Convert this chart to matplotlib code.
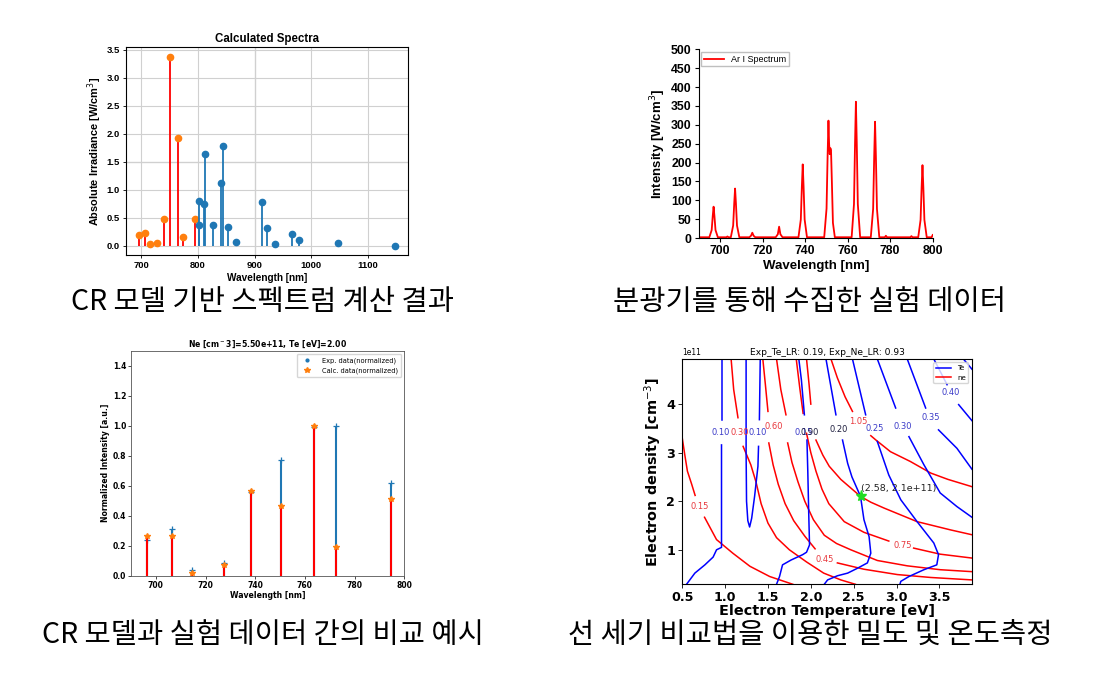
import numpy as np
import matplotlib
matplotlib.use('Agg')
from matplotlib import pyplot as plt
from matplotlib.lines import Line2D

# ---- panel 1 : calculated spectra (stems) ----
calc_ar_wl = [697, 707.5, 715.5, 728, 739.5, 751, 764.5, 773, 795]
calc_ar_val = [0.18, 0.22, 0.02, 0.05, 0.48, 3.38, 1.93, 0.16, 0.47]
calc_ir_wl = [801.5, 802.5, 811.5, 812.3, 827, 841.5, 843.5, 852.5, 867, 913, 922.5, 935.5, 965.5, 979, 1046.5, 1147]
calc_ir_val = [0.36, 0.80, 0.75, 1.63, 0.36, 1.12, 1.78, 0.33, 0.06, 0.78, 0.32, 0.02, 0.21, 0.10, 0.04, 0.0]

spec_wl = [690, 695.0, 696.1, 696.6, 697.0, 697.4, 697.9, 699.0,
           703.0, 703.5, 704.0,
           705.1, 706.2, 706.7, 707.1, 707.5, 708.0, 709.1,
           713.8, 714.6, 715.2, 715.8, 716.6,
           726.2, 727.2, 727.8, 728.4, 729.4,
           736.9, 738.0, 738.5, 738.9, 739.3, 739.8, 740.9,
           749.0, 750.1, 750.6, 751.0, 751.3, 751.6, 751.9, 752.2, 752.6, 753.1, 754.0,
           761.9, 763.0, 763.5, 763.9, 764.3, 764.8, 765.9,
           770.9, 772.0, 772.5, 772.9, 773.3, 773.8, 774.9,
           777.5, 778.0, 778.5,
           789.5, 790.0, 790.5,
           793.2, 794.3, 794.8, 795.2, 795.6, 796.1, 797.2,
           799.5, 800]
spec_int = [2, 2, 21, 58, 83, 58, 21, 2,
            2, 4, 2,
            2, 33, 92, 131, 92, 33, 2,
            2, 6, 14, 6, 2,
            2, 10, 30, 10, 2,
            2, 49, 137, 195, 137, 49, 2,
            2, 78, 218, 311, 250, 222, 238, 232, 150, 40, 2,
            2, 90, 253, 361, 253, 90, 2,
            2, 77, 216, 308, 216, 77, 2,
            2, 6, 2,
            2, 5, 2,
            2, 48, 135, 193, 135, 48, 2,
            2, 8]

# ---- panel 3 : exp vs calc ----
cmp_wl = [696.5, 706.7, 714.7, 727.3, 738.4, 750.4, 763.5, 772.4, 794.8]
cmp_exp = [0.235, 0.31, 0.04, 0.085, 0.56, 0.77, 0.99, 1.0, 0.62]
cmp_calc = [0.265, 0.265, 0.02, 0.07, 0.565, 0.465, 1.0, 0.19, 0.51]

# ---- panel 4 : line ratio contours, (Te [eV], ne [1e11 cm-3]) ----
ne_015 = [[(0.50, 3.30), (0.53, 2.95), (0.56, 2.62), (0.61, 2.35), (0.65, 2.12)],
          [(0.76, 1.67), (0.90, 1.21), (1.09, 0.93), (1.29, 0.66), (1.52, 0.45), (1.79, 0.29)]]
ne_030 = [[(1.07, 4.93), (1.10, 4.30), (1.15, 3.72)],
          [(1.21, 3.13), (1.30, 2.75), (1.36, 2.40), (1.42, 1.95), (1.50, 1.55), (1.60, 1.25),
           (1.75, 1.00), (1.95, 0.75), (2.15, 0.52), (2.35, 0.38), (2.52, 0.29)]]
ne_045 = [[(1.44, 4.93), (1.47, 4.40), (1.50, 3.85)],
          [(1.51, 3.20), (1.56, 2.75), (1.62, 2.35), (1.70, 1.95), (1.80, 1.60), (1.93, 1.28), (2.05, 1.02)],
          [(2.31, 0.73), (2.62, 0.60), (3.01, 0.49), (3.40, 0.43), (3.88, 0.38)]]
ne_060 = [[(1.60, 4.93), (1.65, 4.30), (1.71, 3.78)],
          [(1.73, 3.20), (1.78, 2.80), (1.85, 2.40), (1.93, 2.00), (2.03, 1.62), (2.157, 1.30), (2.30, 1.13),
           (2.467, 1.00), (2.776, 0.78), (3.125, 0.67), (3.51, 0.59), (3.88, 0.55)]]
ne_075 = [[(1.83, 4.93), (1.87, 4.35), (1.91, 3.81)],
          [(1.95, 3.40), (2.00, 3.00), (2.06, 2.62), (2.13, 2.25), (2.21, 1.95), (2.39, 1.58), (2.62, 1.36), (2.91, 1.18)],
          [(3.20, 1.035), (3.51, 0.91), (3.88, 0.83)]]
ne_090 = [[(1.95, 4.93), (1.98, 4.40), (2.00, 4.00)],
          [(2.06, 3.26), (2.14, 2.95), (2.215, 2.72), (2.35, 2.45), (2.58, 2.10), (2.70, 1.98), (2.854, 1.86),
           (3.24, 1.58), (3.63, 1.41), (3.88, 1.31)]]
ne_105 = [[(2.235, 4.93), (2.31, 4.54), (2.40, 4.15), (2.486, 3.85)],
          [(2.70, 3.35), (2.76, 3.26), (2.93, 3.02), (3.16, 2.82), (3.40, 2.58), (3.60, 2.45), (3.88, 2.30)]]
ne_levels = [ne_015, ne_030, ne_045, ne_060, ne_075, ne_090, ne_105]
ne_labels = [('0.15', 0.70, 1.90), ('0.30', 1.165, 3.42), ('0.45', 2.165, 0.80), ('0.60', 1.57, 3.53),
             ('0.75', 3.067, 1.09), ('1.05', 2.55, 3.65)]

te_010a = [[(0.55, 0.29), (0.647, 0.52), (0.764, 0.69), (0.86, 0.85), (0.90, 1.00), (0.958, 1.05), (0.958, 3.16)],
           [(0.958, 3.68), (0.958, 4.93)]]
te_010b = [[(1.245, 4.93), (1.245, 3.00), (1.25, 2.00), (1.265, 1.60), (1.286, 1.47), (1.31, 1.65),
            (1.344, 2.10), (1.383, 2.72), (1.39, 3.13)],
           [(1.40, 3.68), (1.41, 4.93)]]
te_015 = [[(1.86, 4.93), (1.89, 4.50), (1.925, 3.78)],
          [(1.955, 3.26), (1.965, 2.60), (1.975, 1.80), (1.985, 1.10), (1.95, 0.95), (1.905, 0.90),
           (1.77, 0.79), (1.67, 0.69), (1.635, 0.45), (1.60, 0.29)]]
te_020 = [[(2.177, 4.93), (2.293, 3.78)],
          [(2.37, 3.26), (2.43, 2.78), (2.48, 2.50), (2.58, 2.10), (2.62, 1.62), (2.68, 1.27), (2.70, 0.93),
           (2.66, 0.73), (2.544, 0.62), (2.43, 0.52), (2.31, 0.465), (2.196, 0.38), (2.157, 0.29)]]
te_025 = [[(2.486, 4.93), (2.64, 3.78)],
          [(2.776, 3.23), (2.91, 2.54), (3.05, 2.03), (3.24, 1.58), (3.435, 1.14), (3.49, 0.90), (3.47, 0.69),
           (3.32, 0.59), (3.145, 0.45), (3.05, 0.35), (3.04, 0.29)]]
te_030 = [[(2.776, 4.93), (2.99, 3.92)],
          [(3.145, 3.33), (3.32, 2.75), (3.51, 2.17), (3.705, 1.89), (3.88, 1.67)]]
te_035 = [[(3.125, 4.93), (3.34, 3.92)], [(3.49, 3.47), (3.705, 3.09), (3.88, 2.66)]]
te_040 = [[(3.435, 4.93), (3.59, 4.40)], [(3.725, 3.99), (3.88, 3.66)]]
te_045 = [[(3.78, 4.93), (3.88, 4.72)]]
te_levels = [te_010a, te_010b, te_015, te_020, te_025, te_030, te_035, te_040, te_045]
te_labels = [('0.10', 0.945, 3.42), ('0.10', 1.375, 3.42), ('0.15', 1.92, 3.42), ('0.25', 2.75, 3.50),
             ('0.30', 3.07, 3.54), ('0.35', 3.40, 3.72), ('0.40', 3.63, 4.23)]
dark_labels = [('0.90', 1.99, 3.42), ('0.20', 2.33, 3.47)]

best_te = 2.58
best_ne = 2.1

captions = ['CR 모델 기반 스펙트럼 계산 결과', '분광기를 통해 수집한 실험 데이터',
            'CR 모델과 실험 데이터 간의 비교 예시', '선 세기 비교법을 이용한 밀도 및 온도측정']

fig = plt.figure(figsize=(10.96, 6.75), dpi=100)

# panel 1
ax1 = fig.add_axes([0.115, 0.6222, 0.2573, 0.308])
arial = 'Liberation Sans'
ax1.grid(True, color='#d0d0d0', linewidth=0.8)
ax1.set_axisbelow(True)
ax1.axvline(900, color='#a0a0a0', linewidth=0.8, zorder=0)
ax1.axhline(1.5, color='#a0a0a0', linewidth=0.8, zorder=0)
ax1.vlines(calc_ar_wl, 0, calc_ar_val, color='red', linewidth=1.3)
ax1.plot(calc_ar_wl, calc_ar_val, 'o', color='#ff7f0e', markersize=4.5)
ax1.vlines(calc_ir_wl, 0, calc_ir_val, color='#1f77b4', linewidth=1.3)
ax1.plot(calc_ir_wl, calc_ir_val, 'o', color='#1f77b4', markersize=4.5)
ax1.set_xlim(673.4, 1170.6)
ax1.set_ylim(-0.169, 3.549)
ax1.set_xticks([700, 800, 900, 1000, 1100])
ax1.set_yticks(np.arange(0, 3.6, 0.5))
ax1.set_title('Calculated Spectra', fontsize=8.3, fontweight='bold', family=arial, pad=4)
ax1.set_xlabel('Wavelength [nm]', fontsize=7.2, fontweight='bold', family=arial, labelpad=2)
ax1.set_ylabel('Absolute Irradiance [W/cm$^3$]', fontsize=7.9, fontweight='bold', family=arial, labelpad=2)
for lab in ax1.get_xticklabels() + ax1.get_yticklabels():
    lab.set_fontsize(6.8)
    lab.set_fontweight('bold')
    lab.set_family(arial)
ax1.tick_params(length=2.5, width=0.6, pad=2)

# panel 2
ax2 = fig.add_axes([0.6375, 0.6474, 0.2135, 0.2796])
ax2.plot(spec_wl, spec_int, color='red', linewidth=1.3, label='Ar I Spectrum')
ax2.set_xlim(690, 800)
ax2.set_ylim(0, 500)
ax2.set_xticks(np.arange(700, 801, 20))
ax2.set_yticks(np.arange(0, 501, 50))
ax2.spines['top'].set_visible(False)
ax2.spines['right'].set_visible(False)
ax2.set_xlabel('Wavelength [nm]', fontsize=9.5, fontweight='bold', family=arial, labelpad=2)
ax2.set_ylabel('Intensity [W/cm$^3$]', fontsize=9.5, fontweight='bold', family=arial, labelpad=2)
for lab in ax2.get_xticklabels() + ax2.get_yticklabels():
    lab.set_fontsize(8.8)
    lab.set_fontweight('bold')
    lab.set_family(arial)
ax2.tick_params(length=3, width=0.8, pad=2)
ax2.legend(loc='upper left', prop={'family': arial, 'size': 6.5}, handlelength=2.2,
           borderpad=0.3, borderaxespad=0.3, fancybox=False, edgecolor='#b0b0b0')

# panel 3
ax3 = fig.add_axes([0.1195, 0.1471, 0.2494, 0.3333])
ax3.vlines(cmp_wl, 0, cmp_exp, color='#1f77b4', linewidth=1.5)
ax3.plot(cmp_wl, cmp_exp, '+', color='#1f77b4', markersize=4, markeredgewidth=0.9)
ax3.vlines(cmp_wl, 0, cmp_calc, color='red', linewidth=1.5)
ax3.plot(cmp_wl, cmp_calc, '*', color='#ff7f0e', markersize=4)
ax3.set_xlim(690, 800)
ax3.set_ylim(0, 1.5)
ax3.set_xticks(np.arange(700, 801, 20))
ax3.set_yticks(np.arange(0, 1.41, 0.2))
ax3.set_title('Ne [cm$^-$3]=5.50e+11, Te [eV]=2.00', fontsize=5.6, fontweight='bold', pad=3)
ax3.set_xlabel('Wavelength [nm]', fontsize=5.6, fontweight='bold', labelpad=1)
ax3.set_ylabel('Normalized Intensity [a.u.]', fontsize=5.6, fontweight='bold', labelpad=2)
for lab in ax3.get_xticklabels() + ax3.get_yticklabels():
    lab.set_fontsize(5.5)
    lab.set_fontweight('bold')
ax3.tick_params(length=2, width=0.5, pad=1.5)
for sp in ax3.spines.values():
    sp.set_linewidth(0.6)
    sp.set_color('#555555')
h3 = [Line2D([], [], linestyle='none', marker='.', color='#1f77b4', markersize=4),
      Line2D([], [], linestyle='none', marker='*', color='#ff7f0e', markersize=4)]
ax3.legend(h3, ['Exp. data(normalized)', 'Calc. data(normalized)'], loc='upper right', fontsize=4.8,
           handletextpad=1.2, borderpad=0.5, labelspacing=0.5)

# panel 4
ax4 = fig.add_axes([0.6225, 0.1344, 0.2643, 0.3338])
for level in ne_levels:
    for seg in level:
        ax4.plot([p[0] for p in seg], [p[1] * 1e11 for p in seg], color='red', linewidth=1.1)
for level in te_levels:
    for seg in level:
        ax4.plot([p[0] for p in seg], [p[1] * 1e11 for p in seg], color='blue', linewidth=1.1)
for txt, t, n in ne_labels:
    ax4.text(t, n * 1e11, txt, color='#e8383d', fontsize=6.0, ha='center', va='center')
for txt, t, n in te_labels:
    ax4.text(t, n * 1e11, txt, color='#3b3bc8', fontsize=6.0, ha='center', va='center')
for txt, t, n in dark_labels:
    ax4.text(t, n * 1e11, txt, color='#202040', fontsize=6.0, ha='center', va='center')
ax4.plot(best_te, best_ne * 1e11, '*', color='#22dd22', markersize=8, zorder=5)
ax4.annotate('(%.2f, %.1e)' % (best_te, best_ne * 1e11), (best_te, best_ne * 1e11),
             xytext=(0, 4), textcoords='offset points', fontsize=6.8, color='#222222')
ax4.set_xlim(0.5, 3.88)
ax4.set_ylim(0.29e11, 4.93e11)
ax4.set_xticks(np.arange(0.5, 3.6, 0.5))
ax4.set_yticks([1e11, 2e11, 3e11, 4e11])
ax4.set_title('Exp_Te_LR: 0.19, Exp_Ne_LR: 0.93', fontsize=6.6, pad=3)
ax4.set_xlabel('Electron Temperature [eV]', fontsize=10.4, fontweight='bold', labelpad=0)
ax4.set_ylabel('Electron density [cm$^{-3}$]', fontsize=10.4, fontweight='bold', labelpad=2)
for lab in ax4.get_xticklabels() + ax4.get_yticklabels():
    lab.set_fontsize(9.2)
    lab.set_fontweight('bold')
ax4.tick_params(length=3, width=0.6, pad=2)
ax4.yaxis.get_offset_text().set_fontsize(5.5)
h4 = [Line2D([], [], color='blue', linewidth=1.1), Line2D([], [], color='red', linewidth=1.1)]
ax4.legend(h4, ['Te', 'ne'], loc='upper right', fontsize=5, handlelength=2.2, borderpad=0.4)

# captions
cap_font = ['Noto Sans CJK KR', 'DejaVu Sans']
fig.text(0.2395, 0.552, captions[0], fontsize=20.5, ha='center', va='center', family=cap_font)
fig.text(0.739, 0.552, captions[1], fontsize=20.5, ha='center', va='center', family=cap_font)
fig.text(0.24, 0.059, captions[2], fontsize=20.5, ha='center', va='center', family=cap_font)
fig.text(0.739, 0.059, captions[3], fontsize=20.5, ha='center', va='center', family=cap_font)

fig.savefig('out.png', dpi=100)
